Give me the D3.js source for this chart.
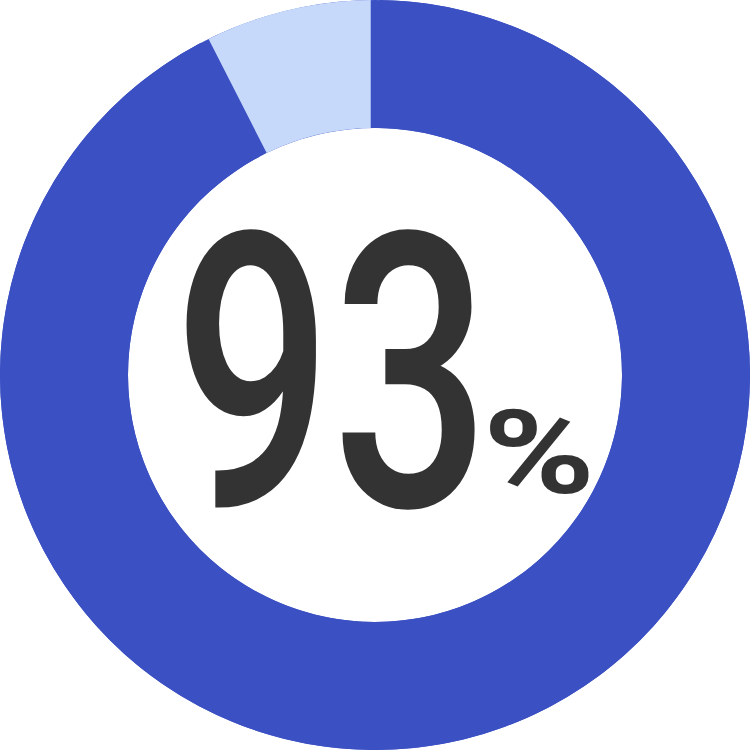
<!DOCTYPE html>
<meta charset="utf-8">
<style>
body {
  margin: 0;
  background: #fff;
}
.value {
  font-family: Roboto, "Noto Sans", sans-serif;
  font-weight: 500;
  fill: #333333;
}
.unit {
  font-family: Roboto, "Noto Sans", sans-serif;
  font-weight: 700;
  fill: #333333;
}
</style>
<svg id="donut"></svg>
<script src="https://d3js.org/d3.v7.min.js"></script>
<script>

// data
const labels = ["Yes", "Other"];
const shares = [92.5, 7.5];
const colors = ["#3a50c3", "#c6d9fb"];

let svg = d3.select("#donut")
  .attr("width", 750)
  .attr("height", 750);

let outer = 375,
    inner = 247;

let g = svg.append("g")
  .attr("transform", "translate(375,375)");

let pie = d3.pie().sort(null).value(d => d.share);

let data = labels.map((l, i) => ({label: l, share: shares[i], color: colors[i]}));

let arc = d3.arc()
  .innerRadius(inner)
  .outerRadius(outer);

// blue track under everything
g.append("path")
  .attr("d", arc({startAngle: 0, endAngle: 2 * Math.PI}))
  .attr("fill", colors[0]);

g.selectAll(".slice")
  .data(pie(data))
  .enter()
  .append("path")
  .attr("class", "slice")
  .attr("d", d => arc.padAngle(0.019)(d))
  .attr("fill", d => d.data.color);

// big number in the hole
g.append("text")
  .attr("class", "value")
  .attr("x", -201)
  .attr("y", 131)
  .style("font-size", "384px")
  .attr("textLength", 316)
  .attr("lengthAdjust", "spacingAndGlyphs")
  .text(Math.round(shares[0]));

g.append("text")
  .attr("class", "unit")
  .attr("x", 108)
  .attr("y", 118)
  .style("font-size", "116px")
  .attr("textLength", 112)
  .attr("lengthAdjust", "spacingAndGlyphs")
  .text("%");

</script>
